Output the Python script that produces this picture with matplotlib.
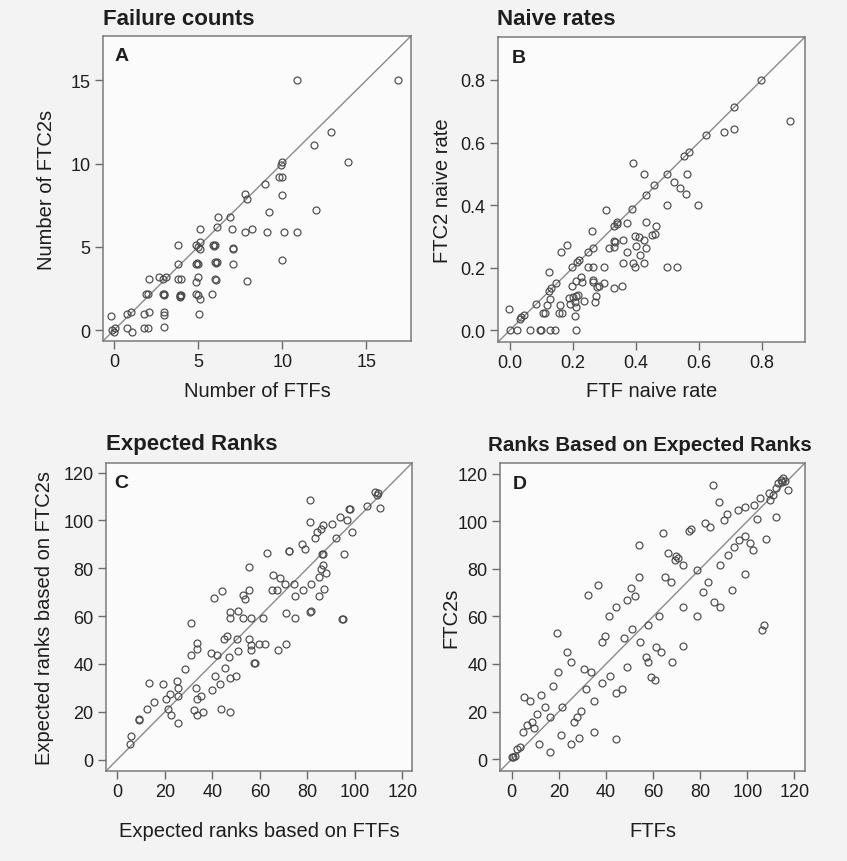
import matplotlib
matplotlib.use("Agg")
import matplotlib.pyplot as plt

plt.rcParams['font.family'] = ['Liberation Sans', 'DejaVu Sans']

# ---------------- Data ----------------
# Panel A: failure counts (jittered)
ftf_counts = [10.9, 16.9, 12.9, 11.9, 13.9, 10.0, 9.95, 9.8, 10.0, 10.0,
              9.0, 7.8, 7.9, 12.0, 9.2, 6.2, 6.9, 5.1, 6.1, 7.0,
              7.8, 8.2, 9.1, 10.1, 10.9, 3.8, 4.9, 5.1, 5.1, 5.9,
              6.0, 7.1, 3.8, 4.9, 5.0, 6.0, 6.1, 7.1, 10.0, 2.1,
              2.7, 2.9, 3.1, 3.8, 4.0, 5.0, 4.9, 6.0, 6.05, 7.9,
              1.9, 2.05, 2.9, 3.0, 3.9, 4.0, 3.95, 4.9, 5.0, 5.1,
              5.8, -0.15, 0.8, 1.0, 1.8, 2.1, 3.0, 3.0, 5.04, -0.1,
              0.0, 0.06, 0.8, 1.1, 1.8, 2.05, 3.0, 3.95, 4.95, 2.95,
              5.95, 5.0, 6.05, 7.05]
ftc2_counts = [15.0, 15.0, 11.9, 11.1, 10.1, 10.1, 9.9, 9.2, 9.2, 8.1,
               8.8, 8.2, 7.9, 7.2, 7.1, 6.8, 6.8, 6.1, 6.2, 6.1,
               5.9, 6.1, 5.9, 5.9, 5.9, 5.1, 5.1, 5.3, 4.9, 5.1,
               5.1, 4.9, 4.0, 4.0, 4.0, 4.1, 4.1, 4.0, 4.2, 3.1,
               3.2, 3.1, 3.2, 3.05, 3.05, 3.2, 2.9, 3.1, 3.0, 2.95,
               2.15, 2.15, 2.15, 2.15, 2.1, 2.1, 2.0, 2.15, 2.1, 1.9,
               2.15, 0.86, 0.96, 1.1, 0.96, 1.1, 1.1, 0.9, 0.96, 0.0,
               -0.1, 0.1, 0.1, -0.14, 0.1, 0.1, 0.16, 2.05, 4.05, 2.1,
               5.05, 5.0, 4.05, 4.95]

# Panel B: naive rates
ftf_rate = [0.798, 0.712, 0.889, 0.680, 0.712, 0.622, 0.553, 0.569, 0.498, 0.564,
            0.390, 0.425, 0.458, 0.522, 0.540, 0.558, 0.431, 0.388, 0.498, 0.598,
            0.306, 0.373, 0.342, 0.340, 0.332, 0.431, 0.465, 0.262, 0.397, 0.409,
            0.425, 0.453, 0.460, 0.331, 0.334, 0.358, 0.314, 0.330, 0.263, 0.248,
            0.182, 0.164, 0.373, 0.400, 0.413, 0.432, 0.220, 0.214, 0.198, 0.249,
            0.265, 0.299, 0.358, 0.390, 0.398, 0.426, 0.498, 0.531, 0.124, 0.148,
            0.124, 0.130, 0.198, 0.209, 0.226, 0.228, 0.263, 0.265, 0.276, 0.283,
            0.299, 0.332, 0.357, 0.273, 0.270, 0.189, 0.200, 0.210, 0.218, 0.190,
            0.207, 0.212, 0.237, 0.083, 0.117, 0.129, 0.159, 0.157, 0.167, 0.106,
            0.111, 0.032, 0.037, 0.045, -0.002, 0.208, 0.000, 0.023, 0.064, 0.095,
            0.100, 0.129, 0.143, 0.212]
ftc2_rate = [0.800, 0.715, 0.668, 0.633, 0.643, 0.625, 0.556, 0.570, 0.501, 0.501,
             0.535, 0.501, 0.463, 0.474, 0.454, 0.437, 0.434, 0.389, 0.400, 0.400,
             0.384, 0.344, 0.346, 0.341, 0.334, 0.347, 0.334, 0.316, 0.302, 0.297,
             0.289, 0.304, 0.308, 0.286, 0.281, 0.288, 0.263, 0.265, 0.263, 0.251,
             0.272, 0.251, 0.251, 0.268, 0.242, 0.262, 0.226, 0.220, 0.201, 0.201,
             0.201, 0.201, 0.214, 0.214, 0.201, 0.214, 0.201, 0.201, 0.188, 0.152,
             0.127, 0.135, 0.141, 0.159, 0.172, 0.156, 0.162, 0.154, 0.140, 0.143,
             0.152, 0.135, 0.143, 0.111, 0.090, 0.103, 0.108, 0.111, 0.114, 0.085,
             0.092, 0.074, 0.095, 0.085, 0.082, 0.099, 0.082, 0.056, 0.056, 0.056,
             0.056, 0.037, 0.042, 0.048, 0.069, 0.046, 0.000, 0.000, 0.000, 0.000,
             0.000, 0.000, 0.000, 0.000]

# Panel C: expected ranks
exp_rank_ftf = [108.4, 109.1, 109.8, 110.5, 105.2, 97.9, 97.5, 81.0, 93.7, 96.8,
                81.0, 90.2, 86.6, 85.5, 84.1, 83.0, 98.6, 92.0, 77.5, 78.8,
                63.0, 72.2, 72.4, 86.2, 86.6, 95.4, 86.6, 85.5, 87.6, 84.8,
                86.9, 84.9, 81.3, 78.0, 74.5, 74.7, 55.3, 65.4, 68.6, 67.2,
                65.1, 70.7, 44.0, 40.8, 52.9, 53.6, 55.3, 47.5, 47.3, 50.8,
                52.7, 56.4, 61.2, 71.0, 74.7, 81.0, 81.3, 94.7, 94.9, 30.9,
                46.1, 45.0, 50.4, 55.3, 56.4, 56.2, 59.5, 62.3, 50.8, 71.0,
                67.5, 33.5, 33.5, 30.9, 39.5, 41.9, 47.1, 57.7, 58.1, 28.3,
                45.4, 40.9, 47.5, 50.1, 43.3, 39.8, 25.0, 25.3, 33.0, 19.1,
                13.4, 22.2, 20.4, 25.7, 33.5, 35.2, 15.2, 12.4, 21.1, 22.5,
                32.1, 33.5, 35.9, 43.6, 47.5, 25.7, 9.3, 8.9, 5.6, 5.1]
exp_rank_ftc2 = [112.0, 110.6, 111.6, 105.3, 106.0, 104.6, 104.9, 108.4, 101.4, 100.1,
                 99.4, 98.3, 97.9, 96.2, 95.1, 92.5, 95.1, 92.5, 90.2, 87.9,
                 86.5, 87.2, 87.0, 85.8, 86.1, 85.8, 81.2, 79.5, 78.1, 76.3,
                 71.4, 68.3, 73.6, 70.9, 73.6, 68.3, 80.5, 77.0, 76.0, 71.1,
                 71.1, 73.6, 70.4, 67.6, 69.0, 67.2, 71.1, 61.6, 59.0, 62.1,
                 59.0, 59.0, 59.0, 61.4, 59.0, 61.8, 62.0, 58.9, 58.9, 56.9,
                 51.6, 50.2, 50.6, 50.2, 48.1, 46.0, 48.4, 48.4, 45.3, 48.4,
                 46.0, 48.8, 46.3, 43.9, 44.4, 43.7, 42.8, 40.2, 40.2, 37.9,
                 38.4, 35.1, 33.9, 34.9, 31.4, 29.0, 32.8, 30.0, 30.0, 31.4,
                 32.1, 27.5, 25.5, 26.5, 25.5, 26.5, 24.0, 21.2, 21.2, 18.8,
                 20.9, 18.8, 19.9, 21.2, 19.9, 15.1, 17.0, 16.7, 10.0, 6.6]

# Panel D: ranks based on expected ranks
rank_ftf = [114.4, 115.3, 114.8, 115.8, 113.2, 112.2, 117.2, 109.4, 110.8, 109.7,
            105.2, 102.8, 99.1, 96.0, 91.3, 90.1, 88.0, 85.4, 82.2, 84.0,
            104.0, 112.0, 75.1, 76.0, 64.0, 54.1, 66.4, 69.9, 70.6, 69.5,
            72.7, 78.6, 88.2, 91.8, 94.2, 96.4, 99.1, 101.2, 102.4, 108.0,
            99.1, 93.5, 83.3, 81.2, 85.7, 88.2, 78.8, 72.7, 65.2, 67.8,
            54.1, 50.8, 52.4, 49.1, 44.2, 41.4, 36.4, 32.2, 62.4, 57.9,
            51.1, 47.6, 39.5, 38.1, 54.4, 61.1, 63.5, 68.0, 72.7, 107.0,
            106.3, 19.1, 23.3, 25.0, 30.6, 33.6, 31.4, 19.5, 17.6, 38.1,
            41.5, 49.1, 56.8, 58.0, 59.3, 60.6, 44.2, 46.6, 35.0, 29.6,
            27.8, 26.5, 21.5, 16.2, 14.0, 12.4, 5.2, 7.8, 10.6, 9.6,
            8.5, 6.4, 4.7, 11.7, 16.2, 20.8, 25.1, 28.5, 35.0, 44.3,
            3.5, 2.4, 1.4, 0.7, 0.0]
rank_ftc2 = [117.2, 118.2, 116.5, 116.8, 116.1, 114.0, 113.3, 111.9, 110.9, 109.1,
             109.8, 106.9, 106.2, 104.8, 103.2, 100.4, 108.1, 115.1, 99.2, 97.8,
             101.0, 102.0, 96.1, 96.8, 95.0, 90.2, 86.7, 85.3, 84.5, 83.9,
             81.8, 79.6, 81.8, 85.9, 89.1, 92.2, 93.6, 90.9, 88.0, 92.4,
             77.9, 70.9, 74.4, 70.2, 66.2, 63.9, 60.1, 63.9, 76.5, 74.4,
             76.5, 72.0, 68.5, 67.1, 63.9, 60.1, 73.3, 68.8, 60.1, 56.4,
             54.5, 50.9, 51.9, 49.4, 49.4, 47.3, 44.9, 40.7, 47.4, 56.4,
             54.3, 53.1, 44.9, 41.0, 37.9, 36.5, 29.5, 36.5, 30.9, 31.9,
             34.8, 38.9, 43.1, 41.0, 34.4, 33.3, 27.8, 29.5, 24.6, 20.1,
             17.8, 15.4, 22.0, 17.5, 21.8, 27.1, 26.2, 24.6, 18.9, 12.9,
             15.4, 14.3, 11.5, 6.3, 2.8, 10.1, 6.3, 8.7, 11.5, 8.4,
             4.9, 4.2, 1.4, 1.0, 1.0]

titles = ["Failure counts", "Naive rates", "Expected Ranks", "Ranks Based on Expected Ranks"]
letters = ["A", "B", "C", "D"]
xlabels = ["Number of FTFs", "FTF naive rate", "Expected ranks based on FTFs", "FTFs"]
ylabels = ["Number of FTC2s", "FTC2 naive rate", "Expected ranks based on FTC2s", "FTC2s"]
ticks_counts = [0, 5, 10, 15]
ticks_rates = [0.0, 0.2, 0.4, 0.6, 0.8]
ticks_ranks = [0, 20, 40, 60, 80, 100, 120]

# ---------------- Figure ----------------
W, H = 847, 862
fig = plt.figure(figsize=(W / 100, H / 100), dpi=100, facecolor='#f3f3f3')

def px_axes(l, t, r, b):
    return fig.add_axes([l / W, 1 - b / H, (r - l) / W, (b - t) / H])

axA = px_axes(103, 37, 411, 342)
axB = px_axes(498, 38, 805, 343)
axC = px_axes(106, 464, 412, 772)
axD = px_axes(500, 464, 805, 772)

panels = [
    (axA, ftf_counts, ftc2_counts, (-0.65, 17.65), ticks_counts, None),
    (axB, ftf_rate, ftc2_rate, (-0.037, 0.937), ticks_rates, '%.1f'),
    (axC, exp_rank_ftf, exp_rank_ftc2, (-4.8, 124.0), ticks_ranks, None),
    (axD, rank_ftf, rank_ftc2, (-5.0, 124.5), ticks_ranks, None),
]

title_pos = [(0.0, 1.040), (-0.003, 1.043), (0.0, 1.045), (-0.039, 1.043)]
title_size = [16, 16, 16, 14.8]
letter_pos = [(0.036, 0.963), (0.046, 0.962), (0.026, 0.965), (0.043, 0.961)]
xlabel_y = [-0.131, -0.128, -0.162, -0.162]
ylabel_x = [-0.153, -0.150, -0.170, -0.131]

txt = '#1e1e1e'
for i, (ax, xs, ys, lim, tks, fmt) in enumerate(panels):
    ax.set_facecolor('#fbfbfb')
    ax.axline((0, 0), slope=1, color='#8a8a8a', lw=1.0, zorder=1)
    ax.plot(xs, ys, linestyle='none', marker='o', ms=5.0, mfc='none',
            mec='#4a4a4a', mew=0.85, zorder=2)
    ax.set_xlim(lim)
    ax.set_ylim(lim)
    ax.set_xticks(tks)
    ax.set_yticks(tks)
    if fmt:
        ax.set_xticklabels([fmt % t for t in tks])
        ax.set_yticklabels([fmt % t for t in tks])
    for s in ax.spines.values():
        s.set_color('#7a7a7a')
        s.set_linewidth(1.1)
    ax.tick_params(direction='out', length=6, width=1.0, color='#6a6a6a',
                   labelsize=13, labelcolor=txt, pad=3)
    ax.set_xlabel(xlabels[i], fontsize=14.5, color=txt)
    ax.set_ylabel(ylabels[i], fontsize=14.5, color=txt)
    ax.xaxis.set_label_coords(0.5, xlabel_y[i])
    ax.yaxis.set_label_coords(ylabel_x[i], 0.5)
    ax.text(title_pos[i][0], title_pos[i][1], titles[i], transform=ax.transAxes,
            ha='left', va='baseline', fontsize=title_size[i], fontweight='bold',
            color=txt)
    ax.text(letter_pos[i][0], letter_pos[i][1], letters[i], transform=ax.transAxes,
            ha='left', va='top', fontsize=14, fontweight='bold', color=txt)

fig.savefig('out.png', dpi=100, facecolor=fig.get_facecolor())
